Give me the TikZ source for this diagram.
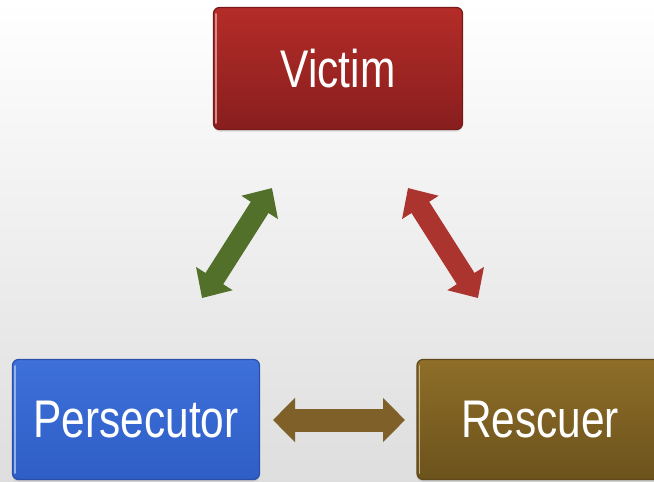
\documentclass[tikz,border=0pt]{standalone}
\usepackage{fontspec}
\newfontfamily\lblfont[FakeStretch=0.8]{Liberation Sans}
\usetikzlibrary{arrows.meta,shadows}
\definecolor{vicTop}{RGB}{180,44,40}
\definecolor{vicBot}{RGB}{136,30,30}
\definecolor{vicEdge}{RGB}{120,25,25}
\definecolor{perTop}{RGB}{62,112,218}
\definecolor{perBot}{RGB}{46,94,198}
\definecolor{perEdge}{RGB}{40,80,170}
\definecolor{resTop}{RGB}{142,110,40}
\definecolor{resBot}{RGB}{108,82,28}
\definecolor{resEdge}{RGB}{95,72,25}
\definecolor{arrGreen}{RGB}{82,112,42}
\definecolor{arrRed}{RGB}{172,52,46}
\definecolor{arrOlive}{RGB}{126,96,40}
\begin{document}
\begin{tikzpicture}[x=1pt,y=-1pt,
  rolebox/.style={rounded corners=6pt, line width=1.2pt, text=white,
    font=\lblfont\fontsize{53}{60}\selectfont, inner sep=0pt,
    drop shadow={opacity=0.25, shadow xshift=0pt, shadow yshift=-2pt}},
  highlight/.style={line width=1.6pt, line cap=round},
  diagarrow/.style={line width=21pt, {Triangle[length=23pt,width=42pt]}-{Triangle[length=23pt,width=42pt]}},
  horizarrow/.style={line width=23pt, {Triangle[length=22pt,width=43pt]}-{Triangle[length=22pt,width=43pt]}}
]
\useasboundingbox (0,0) rectangle (654,482);
\clip (0,0) rectangle (654,482);
\shade[top color=white, middle color=black!3, bottom color=black!13] (0,0) rectangle (654,482);

\node[rolebox, draw=vicEdge, top color=vicTop, bottom color=vicBot,
  minimum width=249pt, minimum height=122pt] (victim) at (338,68.5) {Victim};
\node[rolebox, draw=perEdge, top color=perTop, bottom color=perBot,
  minimum width=247pt, minimum height=120pt] (persecutor) at (136,419.5) {Persecutor};
\node[rolebox, draw=resEdge, top color=resTop, bottom color=resBot,
  minimum width=246pt, minimum height=120pt] (rescuer) at (540,419.5) {Rescuer};

\draw[highlight, draw=vicTop!55!white] ([xshift=3pt,yshift=-7pt]victim.north west) -- ([xshift=3pt,yshift=7pt]victim.south west);
\draw[highlight, draw=perTop!55!white] ([xshift=3pt,yshift=-7pt]persecutor.north west) -- ([xshift=3pt,yshift=7pt]persecutor.south west);
\draw[highlight, draw=resTop!55!white] ([xshift=3pt,yshift=-7pt]rescuer.north west) -- ([xshift=3pt,yshift=7pt]rescuer.south west);

\coordinate (gA) at (202,298);
\coordinate (gB) at (272,188);
\coordinate (rA) at (408,188);
\coordinate (rB) at (478,298);
\coordinate (oA) at (273,420);
\coordinate (oB) at (405,420);

\draw[diagarrow, draw=arrGreen, fill=arrGreen] (gA) -- (gB);
\draw[diagarrow, draw=arrRed, fill=arrRed] (rA) -- (rB);
\draw[horizarrow, draw=arrOlive, fill=arrOlive] (oA) -- (oB);
\end{tikzpicture}
\end{document}
